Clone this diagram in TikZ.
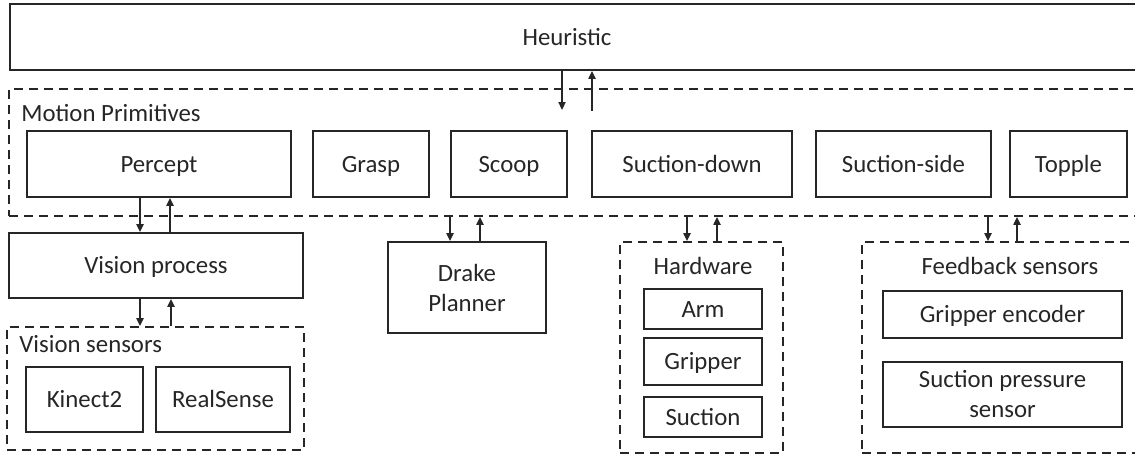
\documentclass[tikz,border=0pt]{standalone}
\usepackage{fontspec}
\setmainfont{Carlito}
\usetikzlibrary{arrows.meta}

\begin{document}
\begin{tikzpicture}[x=0.5pt,y=-0.5pt,font=\fontsize{12.4}{15}\selectfont]
	\tikzset{box/.style={draw=black!85,line width=0.9pt,inner sep=0pt,align=center,text=black!85,text height=8pt,text depth=0pt},
		two/.style={text height={},text depth={}},
		group/.style={draw=black!85,line width=0.9pt,dash pattern=on 4.5pt off 3pt,inner sep=0pt},
		sz/.style 2 args={minimum width=#1pt,minimum height=#2pt},
		lbl/.style={text=black!85,inner sep=0pt,text height=8pt,text depth=0pt},
		link/.style={draw=black!85,line width=0.75pt,-{Triangle[length=4pt,width=3.6pt]}}}
	\useasboundingbox (0,0) rectangle (1135,455);
	\clip (0,0) rectangle (1135,455);
	% top level
	\node[box,sz={575}{33}] (heur) at (585,37) {};
	\node[lbl] (heurlbl) at (567,38) {Heuristic};
	% motion primitives
	\node[group,sz={575.5}{63.5}] (prims) at (584.5,152.5) {};
	\node[lbl,anchor=west] (primslbl) at (21,113.5) {Motion Primitives};
	\node[box,sz={132}{33}] (percept) at (159,164) {Percept};
	\node[box,sz={58}{33}] (grasp) at (371,164) {Grasp};
	\node[box,sz={58}{33}] (scoop) at (509,164) {Scoop};
	\node[box,sz={100}{33}] (sdown) at (692,164) {Suction-down};
	\node[box,sz={87.5}{33}] (sside) at (903.5,164) {Suction-side};
	\node[box,sz={58.5}{33}] (topple) at (1068.5,164) {Topple};
	\coordinate (hin) at (562,110);
	\coordinate (hout) at (592,111);
	\draw[link] (heur.south -| hin) -- (hin);
	\draw[link] (hout) -- (heur.south -| hout);
	% vision
	\node[box,sz={147}{32.5}] (vproc) at (156,265.5) {Vision process};
	\node[group,sz={148.5}{61.5}] (vsens) at (155.5,388.5) {};
	\node[lbl,anchor=west] (vsenslbl) at (19,344.5) {Vision sensors};
	\node[box,sz={58.5}{32.5}] (kinect) at (84.5,399.5) {Kinect2};
	\node[box,sz={67}{32.5}] (rsense) at (223,399.5) {RealSense};
	\draw[link] (percept.south -| 140,0) -- (vproc.north -| 140,0);
	\draw[link] (vproc.north -| 170,0) -- (percept.south -| 170,0);
	\draw[link] (vproc.south -| 140,0) -- (vsens.north -| 140,0);
	\draw[link] (vsens.north -| 171,0) -- (vproc.south -| 171,0);
	% planner
	\node[box,two,sz={79}{45.5}] (drake) at (467,287.5) {Drake\\Planner};
	\draw[link] (prims.south -| 450,0) -- (drake.north -| 450,0);
	\draw[link] (drake.north -| 480,0) -- (prims.south -| 480,0);
	% hardware
	\node[group,sz={81.5}{105.5}] (hw) at (701.5,347.5) {};
	\node[lbl] (hwlbl) at (703,266.5) {Hardware};
	\node[box,sz={59}{20}] (arm) at (703,309) {Arm};
	\node[box,sz={59}{23.5}] (gripper) at (703,361.5) {Gripper};
	\node[box,sz={59}{20}] (suction) at (703,417) {Suction};
	\draw[link] (prims.south -| 687,0) -- (hw.north -| 687,0);
	\draw[link] (hw.north -| 717,0) -- (prims.south -| 717,0);
	% feedback
	\node[group,sz={149}{105.5}] (fb) at (1011,347.5) {};
	\node[lbl] (fblbl) at (1010,266.5) {Feedback sensors};
	\node[box,sz={119.5}{23.5}] (genc) at (1002.5,314.5) {Gripper encoder};
	\node[box,two,sz={119.5}{32.5}] (psens) at (1002.5,394.5) {Suction pressure\\sensor};
	\draw[link] (prims.south -| 988,0) -- (fb.north -| 988,0);
	\draw[link] (fb.north -| 1017,0) -- (prims.south -| 1017,0);
\end{tikzpicture}
\end{document}
